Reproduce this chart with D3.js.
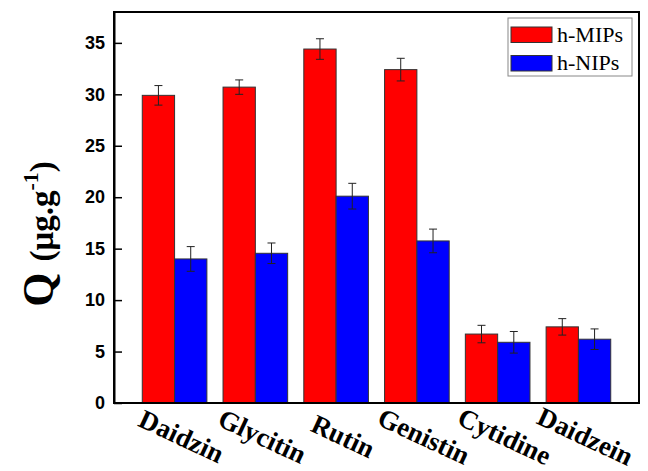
<!DOCTYPE html>
<meta charset="utf-8">
<style>
body { margin: 0; background: #fff; }
.axis text { font-family: "Liberation Sans", Arial, sans-serif; font-weight: bold; font-size: 18px; fill: #000; }
.axis path, .axis line { stroke: #000; }
.xlab { font-family: "Liberation Serif", "Times New Roman", serif; font-weight: bold; font-size: 27px; }
.legend text { font-family: "Liberation Serif", "Times New Roman", serif; font-size: 22px; }
</style>
<svg width="648" height="471"></svg>
<script src="https://d3js.org/d3.v7.min.js"></script>
<script>
var categories = ["Daidzin", "Glycitin", "Rutin", "Genistin", "Cytidine", "Daidzein"];
var seriesNames = ["h-MIPs", "h-NIPs"];
var mipValues = [29.9, 30.7, 34.4, 32.4, 6.7, 7.4];
var mipErrors = [0.95, 0.7, 1.0, 1.1, 0.85, 0.8];
var nipValues = [14.0, 14.55, 20.1, 15.75, 5.9, 6.2];
var nipErrors = [1.2, 1.0, 1.25, 1.15, 1.05, 1.0];
var yTicks = [0, 5, 10, 15, 20, 25, 30, 35];
var colors = ["#ff0000", "#0000ff"];

var svg = d3.select("svg"),
    margin = {top: 12, right: 9, bottom: 68, left: 114},
    width = +svg.attr("width") - margin.left - margin.right,
    height = +svg.attr("height") - margin.top - margin.bottom;

var x = d3.scaleBand().domain(categories).range([0, width])
    .paddingInner(0.2).paddingOuter(0.35);
var x1 = d3.scaleBand().domain(seriesNames).range([0, x.bandwidth()]);
var y = d3.scaleLinear().domain([0, 38]).range([height, 0]);

var g = svg.append("g")
    .attr("transform", "translate(" + margin.left + "," + margin.top + ")");

// table built from the arrays
var rows = categories.map(function(c, i) {
  return {cat: c, vals: [
    {s: seriesNames[0], v: mipValues[i], e: mipErrors[i]},
    {s: seriesNames[1], v: nipValues[i], e: nipErrors[i]}
  ]};
});

var groups = g.selectAll(".grp")
  .data(rows)
  .enter().append("g")
    .attr("class", "grp")
    .attr("transform", function(d) { return "translate(" + x(d.cat) + ",0)"; });

groups.selectAll("rect")
  .data(function(d) { return d.vals; })
  .enter().append("rect")
    .attr("x", function(d) { return x1(d.s); })
    .attr("y", function(d) { return y(d.v); })
    .attr("width", x1.bandwidth())
    .attr("height", function(d) { return height - y(d.v); })
    .attr("fill", function(d, i) { return colors[i]; })
    .attr("stroke", "#333")
    .attr("stroke-width", 1);

// error bars
var eb = groups.selectAll(".err")
  .data(function(d) { return d.vals; })
  .enter().append("g")
    .attr("class", "err")
    .attr("stroke", "#222")
    .attr("stroke-width", 1);
eb.append("line")
    .attr("x1", function(d) { return x1(d.s) + x1.bandwidth() / 2; })
    .attr("x2", function(d) { return x1(d.s) + x1.bandwidth() / 2; })
    .attr("y1", function(d) { return y(d.v + d.e); })
    .attr("y2", function(d) { return y(d.v - d.e); });
[1, -1].forEach(function(sgn) {
  eb.append("line")
      .attr("x1", function(d) { return x1(d.s) + x1.bandwidth() / 2 - 4; })
      .attr("x2", function(d) { return x1(d.s) + x1.bandwidth() / 2 + 4; })
      .attr("y1", function(d) { return y(d.v + sgn * d.e); })
      .attr("y2", function(d) { return y(d.v + sgn * d.e); });
});

// frame
g.append("rect")
    .attr("width", width).attr("height", height)
    .attr("fill", "none").attr("stroke", "#000").attr("stroke-width", 2);

// y axis, ticks inward
var yAxis = g.append("g")
    .attr("class", "axis")
    .call(d3.axisLeft(y).tickValues(yTicks).tickSizeInner(-8).tickSizeOuter(0).tickPadding(9));
yAxis.select(".domain").attr("stroke-width", 2);
yAxis.selectAll("line").attr("stroke-width", 1.5);

// x labels, rotated
g.selectAll(".xlab")
  .data(categories)
  .enter().append("text")
    .attr("class", "xlab")
    .attr("text-anchor", "middle")
    .attr("transform", function(d) {
      return "translate(" + (x(d) + x.bandwidth() / 2 + 7) + "," + (height + 33) + ") rotate(25)";
    })
    .attr("dy", "0.35em")
    .text(function(d) { return d; });

// y title
var yt = svg.append("text")
    .attr("transform", "translate(53,234) rotate(-90)")
    .attr("text-anchor", "middle")
    .style("font-family", "'Liberation Serif', 'Times New Roman', serif")
    .style("font-weight", "bold");
yt.append("tspan").style("font-size", "44px").text("Q ");
yt.append("tspan").style("font-size", "33px").text("(\u03bcg.g");
yt.append("tspan").style("font-size", "22px").attr("dy", "-15").text("-1");
yt.append("tspan").style("font-size", "33px").attr("dy", "15").text(")");

// legend
var lg = svg.append("g").attr("class", "legend").attr("transform", "translate(508,18)");
lg.append("rect").attr("width", 124).attr("height", 58)
    .attr("fill", "#fff").attr("stroke", "#888").attr("stroke-width", 1);
seriesNames.forEach(function(s, i) {
  lg.append("rect").attr("x", 3).attr("y", 9 + i * 28.5).attr("width", 41).attr("height", 15.5)
      .attr("fill", colors[i]).attr("stroke", "#333");
  lg.append("text").attr("x", 49).attr("y", 23.5 + i * 28.5).text(s);
});
</script>
